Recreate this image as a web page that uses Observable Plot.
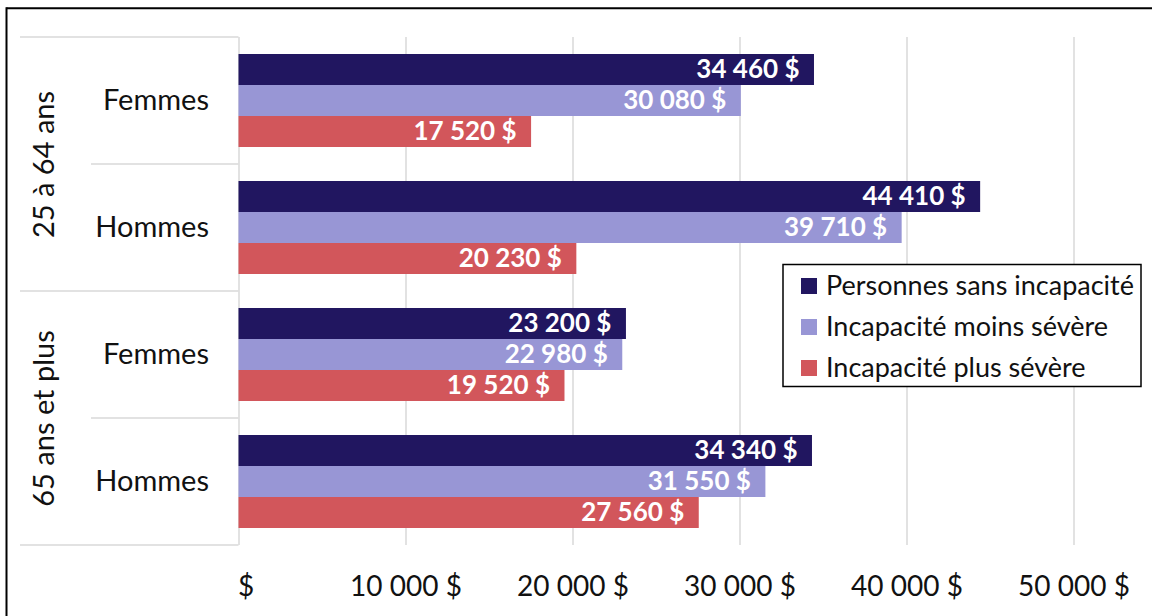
<!DOCTYPE html>
<html>
<head>
<meta charset="utf-8">
<script src="https://cdn.jsdelivr.net/npm/d3@7"></script>
<script src="https://cdn.jsdelivr.net/npm/@observablehq/plot@0.6"></script>
<style>
  html, body { margin: 0; padding: 0; background: #fff; overflow: hidden; }
  #chart svg { display: block; }
</style>
</head>
<body>
<div id="chart"></div>
<script>
// Revenu médian selon le groupe d'âge, le sexe et la sévérité de l'incapacité
const ageGroups = ["25 à 64 ans", "65 ans et plus"];
const sexes = ["Femmes", "Hommes"];
const seriesNames = ["Personnes sans incapacité", "Incapacité moins sévère", "Incapacité plus sévère"];
const seriesColors = ["#211660", "#9896d5", "#d2565b"];
// one value per (âge, sexe) cell, in the order: 25-64 F, 25-64 H, 65+ F, 65+ H
const sansIncapacite = [34460, 44410, 23200, 34340];
const moinsSevere = [30080, 39710, 22980, 31550];
const plusSevere = [17520, 20230, 19520, 27560];
const xTicks = [0, 10000, 20000, 30000, 40000, 50000];

const W = 1152, H = 616;
const FONT = "Lato, 'Open Sans', sans-serif";

// tidy rows built from the arrays above
const valueLists = [sansIncapacite, moinsSevere, plusSevere];
const cells = [];
const rows = [];
ageGroups.forEach((g, gi) => sexes.forEach((s, si) => {
  const i = gi * 2 + si;
  const key = g + " · " + s;
  cells.push({key, group: g, sex: s, first: si === 0});
  valueLists.forEach((vals, k) => rows.push({key, series: seriesNames[k], value: vals[i]}));
}));

const money = v => (v === 0 ? "\u00a0" : d3.format(",")(v).replace(/,/g, "\u00a0")) + "\u00a0$";

const chart = Plot.plot({
  width: W,
  height: H,
  marginTop: 37,
  marginBottom: 70.5,
  marginLeft: 238.5,
  marginRight: 78.5,
  style: {fontFamily: FONT, color: "#111", background: "#fff"},
  x: {domain: [0, 50000], axis: null, label: null},
  y: {domain: seriesNames, paddingInner: 0, paddingOuter: 0.5, axis: null},
  fy: {domain: cells.map(d => d.key), padding: 0, axis: null},
  color: {domain: seriesNames, range: seriesColors},
  marks: [
    Plot.ruleX(xTicks, {stroke: "#d9d9d9", strokeWidth: 1.5}),
    Plot.barX(rows, {fy: "key", y: "series", x: "value", fill: "series"}),
    Plot.text(rows, {
      fy: "key", y: "series", x: "value", text: d => money(d.value),
      textAnchor: "end", dx: -15, fill: "white", fontWeight: "bold", fontSize: 26
    }),
    Plot.text(cells, {
      fy: "key", text: "sex", frameAnchor: "left", textAnchor: "end", lineAnchor: "middle",
      dx: -30, fontSize: 29, fill: "#111"
    }),
    Plot.text(cells.filter(d => d.first), {
      fy: "key", text: "group", frameAnchor: "bottom-left", rotate: -90,
      textAnchor: "middle", lineAnchor: "middle",
      dx: -194.5, fontSize: 29, fill: "#111"
    }),
    Plot.axisX({ticks: xTicks, tickSize: 0, tickPadding: 31, tickFormat: money, fontSize: 28, fill: "#111", label: null})
  ]
});
document.getElementById("chart").append(chart);

// category separators in the left margin, and the outer frame / legend
const svg = d3.select(chart);
const fy = chart.scale("fy");
const xs = chart.scale("x");
const x0 = xs.apply(0);
const sep = svg.append("g").attr("stroke", "#d9d9d9").attr("stroke-width", 1.5);
cells.forEach(c => {
  const y = fy.apply(c.key);
  sep.append("line").attr("x1", c.first ? 20 : 91).attr("x2", x0).attr("y1", y).attr("y2", y);
});
const yEnd = fy.apply(cells[cells.length - 1].key) + fy.bandwidth;
sep.append("line").attr("x1", 20).attr("x2", x0).attr("y1", yEnd).attr("y2", yEnd);

const color = chart.scale("color");
const lg = svg.append("g").attr("transform", "translate(783,264.5)")
  .attr("font-family", FONT).attr("text-anchor", "start");
lg.append("rect").attr("width", 358).attr("height", 122)
  .attr("fill", "white").attr("stroke", "black").attr("stroke-width", 1.5);
color.domain.forEach((name, i) => {
  const row = lg.append("g").attr("transform", `translate(18,${21.5 + i * 41})`);
  row.append("rect").attr("y", -8).attr("width", 16).attr("height", 16).attr("fill", color.apply(name));
  row.append("text").attr("x", 25).attr("dy", "0.35em").attr("font-size", 27)
    .attr("text-anchor", "start").attr("fill", "#111").text(name);
});

const frame = svg.append("g").attr("stroke", "black").attr("stroke-width", 2);
frame.append("line").attr("x1", 6.5).attr("x2", W).attr("y1", 8.3).attr("y2", 8.3);
frame.append("line").attr("x1", 6.5).attr("x2", 6.5).attr("y1", 7.3).attr("y2", H);
</script>
</body>
</html>
